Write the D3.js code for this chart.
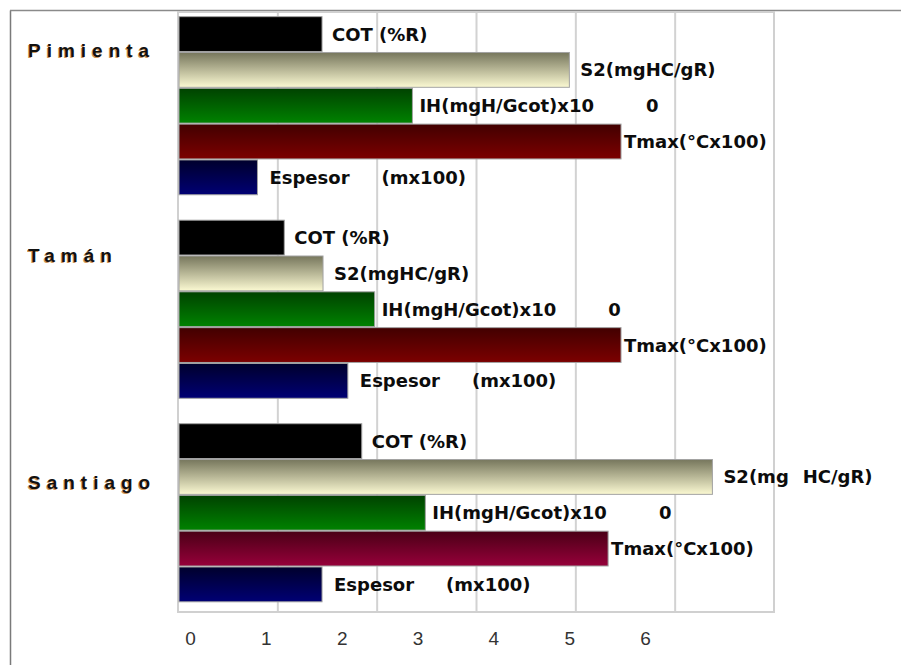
<!DOCTYPE html>
<html>
<head>
<meta charset="utf-8">
<script src="https://cdn.jsdelivr.net/npm/d3@7"></script>
<style>
  html, body { margin: 0; padding: 0; background: #fff; }
  svg { display: block; }
  .bar-label { font-family: "DejaVu Sans", sans-serif; font-weight: bold; font-size: 18px; fill: #0c0c0c; white-space: pre; }
  .cat-label { font-family: "Liberation Sans", Arial, sans-serif; font-weight: bold; font-size: 19px; letter-spacing: 6px; }
  .tick-label text { font-family: "Liberation Sans", Arial, sans-serif; font-size: 19px; fill: #333; }
</style>
</head>
<body>
<svg id="chart" width="901" height="665"></svg>
<script>
// Sites and measured parameters
const categories = ["Pimienta", "Tamán", "Santiago"];
const series = ["COT", "S2", "IH", "Tmax", "Espesor"];

// Values per site, in series order (COT %R, S2 mgHC/gR, IH x10, Tmax °C x100, Espesor m x100)
const pimientaValues = [1.45, 3.94, 2.36, 4.46, 0.80];
const tamanValues    = [1.07, 1.46, 1.98, 4.46, 1.71];
const santiagoValues = [1.85, 5.38, 2.49, 4.33, 1.45];

// Bar labels; "|" splits a label into two separately spaced pieces
const pimientaLabels = ["COT (%R)", "S2(mgHC/gR)", "IH(mgH/Gcot)x10|0", "Tmax(°Cx100)", "Espesor|(mx100)"];
const tamanLabels    = ["COT (%R)", "S2(mgHC/gR)", "IH(mgH/Gcot)x10|0", "Tmax(°Cx100)", "Espesor|(mx100)"];
const santiagoLabels = ["COT (%R)", "S2(mg|HC/gR)", "IH(mgH/Gcot)x10|0", "Tmax(°Cx100)", "Espesor|(mx100)"];

// Axis tick labels
const tickLabels = [0, 1, 2, 3, 4, 5, 6];

const valuesByCat = { "Pimienta": pimientaValues, "Tamán": tamanValues, "Santiago": santiagoValues };
const labelsByCat = { "Pimienta": pimientaLabels, "Tamán": tamanLabels, "Santiago": santiagoLabels };

const rows = [];
categories.forEach(c => series.forEach((s, i) => rows.push({
  cat: c, series: s, idx: i, value: valuesByCat[c][i], label: labelsByCat[c][i]
})));

const svg = d3.select("#chart");

// Plot area
const plot = { left: 178, right: 774, top: 12, bottom: 612 };

const x = d3.scaleLinear().domain([0, 6]).range([plot.left, plot.right]);
const xTicks = d3.scaleLinear().domain([0, 6]).range([190, 645]);

const y0 = d3.scaleBand().domain(categories).range([plot.top, plot.bottom])
  .paddingInner(0.12).paddingOuter(0.034).align(0.3);
const y1 = d3.scaleBand().domain(series).range([0, y0.bandwidth()]).padding(0);

// Gradients
const defs = svg.append("defs");
const grads = {
  COT:     ["#000000", "#000000"],
  S2:      ["#76765c", "#fbf9d2"],
  IH:      ["#004200", "#008200"],
  Tmax:    ["#420000", "#7c0000"],
  TmaxAlt: ["#4a0016", "#96003a"],
  Espesor: ["#00002c", "#000074"]
};
Object.entries(grads).forEach(([k, [c0, c1]]) => {
  const g = defs.append("linearGradient").attr("id", "g-" + k)
    .attr("x1", 0).attr("y1", 0).attr("x2", 0).attr("y2", 1);
  g.append("stop").attr("offset", "0%").attr("stop-color", c0);
  g.append("stop").attr("offset", "100%").attr("stop-color", c1);
});
const fillFor = d => (d.series === "Tmax" && d.cat === "Santiago") ? "url(#g-TmaxAlt)" : "url(#g-" + d.series + ")";

// Outer frame
svg.append("line").attr("x1", 10.5).attr("x2", 10.5).attr("y1", 10.5).attr("y2", 665)
  .attr("stroke", "#7a7a7a").attr("stroke-width", 1.5);
svg.append("line").attr("x1", 10).attr("x2", 901).attr("y1", 10.5).attr("y2", 10.5)
  .attr("stroke", "#8a8a8a").attr("stroke-width", 1.5);

// Gridlines
svg.append("g").attr("transform", `translate(0,${plot.bottom})`)
  .call(d3.axisBottom(x).tickValues([1, 2, 3, 4, 5]).tickSize(-(plot.bottom - plot.top)).tickFormat(""))
  .call(g => g.select(".domain").remove())
  .call(g => g.selectAll("line").attr("stroke", "#d2d2d2").attr("stroke-width", 2));

// Plot border
svg.append("rect").attr("x", plot.left).attr("y", plot.top)
  .attr("width", plot.right - plot.left).attr("height", plot.bottom - plot.top)
  .attr("fill", "none").attr("stroke", "#d0d0d0").attr("stroke-width", 2);

// Bars
const barY = d => y0(d.cat) + y1(d.series);
svg.append("g").selectAll("rect").data(rows).join("rect")
  .attr("x", x(0) + 1)
  .attr("y", d => barY(d) + 0.5)
  .attr("width", d => x(d.value) - x(0) - 1)
  .attr("height", y1.bandwidth() - 1)
  .attr("fill", fillFor)
  .attr("stroke", "#a2a2a2").attr("stroke-width", 1);

// Bar labels
const labelOffset = { COT: 10, S2: 11, IH: 7, Tmax: 3, Espesor: 12 };
const pieceGap = { COT: 0, S2: 14, IH: 52, Tmax: 0, Espesor: 32 };
const labels = svg.append("g").selectAll("text").data(rows).join("text")
  .attr("class", "bar-label")
  .attr("x", d => x(d.value) + labelOffset[d.series])
  .attr("y", d => barY(d) + y1.bandwidth() / 2)
  .attr("dy", "0.36em");
labels.each(function(d) {
  const parts = d.label.split("|");
  const t = d3.select(this);
  parts.forEach((p, i) => {
    t.append("tspan").attr("dx", i === 0 ? 0 : pieceGap[d.series]).text(p);
  });
});

// Site labels
const catShift = { "Pimienta": 41, "Tamán": 42, "Santiago": 66 };
const catG = svg.append("g");
catG.selectAll("text.shadow").data(categories).join("text")
  .attr("class", "cat-label shadow")
  .attr("x", 27).attr("y", d => y0(d) + catShift[d] + 1)
  .attr("fill", "#c4843e").attr("opacity", 0.85)
  .text(d => d);
catG.selectAll("text.main").data(categories).join("text")
  .attr("class", "cat-label main")
  .attr("x", 28).attr("y", d => y0(d) + catShift[d])
  .attr("fill", "#111")
  .text(d => d);

// Axis tick labels
svg.append("g").attr("class", "tick-label").attr("transform", "translate(0,631)")
  .call(d3.axisBottom(xTicks).tickValues(tickLabels).tickSize(0).tickPadding(0).tickFormat(d3.format("d")))
  .call(g => g.select(".domain").remove())
  .call(g => g.selectAll("text").attr("fill", "#333"));
</script>
</body>
</html>
